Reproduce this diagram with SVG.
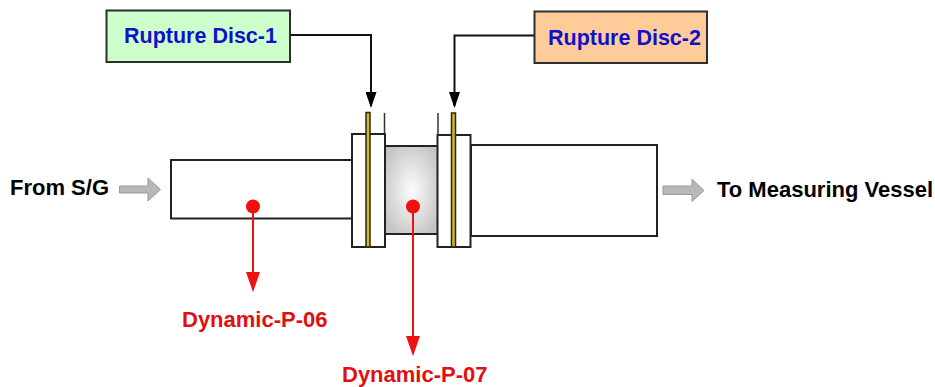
<svg xmlns="http://www.w3.org/2000/svg" width="935" height="387" viewBox="0 0 935 387">
<style>
.lbl{font-family:"Liberation Sans",Arial,sans-serif;font-weight:bold;font-size:22px}
.rd{font-size:21.5px;fill:#1010cc}
.part{fill:#fff;stroke:#222;stroke-width:2}
.disc{fill:#d8b820;stroke:#2a2410;stroke-width:1.500}
.box{stroke:#2e2e2e;stroke-width:2}
.wire{fill:none;stroke:#111;stroke-width:2;marker-end:url(#ak)}
.tap{fill:none;stroke:#f01010;stroke-width:2;marker-end:url(#ar)}
.flow{fill:#b8b8b8;stroke:#999;stroke-width:1}
</style>
<defs>
<radialGradient id="g" cx="0.5" cy="0.5" r="0.6">
<stop offset="0" stop-color="#fdfdfd"/>
<stop offset="1" stop-color="#c4c4c4"/>
</radialGradient>
<marker id="ak" markerUnits="userSpaceOnUse" markerWidth="16" markerHeight="11" refX="14" refY="5.500" orient="auto" viewBox="0 0 16 11"><path d="M0 0L16 5.500L0 11Z" fill="#000"/></marker>
<marker id="ar" markerUnits="userSpaceOnUse" markerWidth="20" markerHeight="14" refX="18" refY="7" orient="auto" viewBox="0 0 20 14"><path d="M0 0L20 7L0 14Z" fill="#f01010"/></marker>
</defs>
<rect width="935" height="387" fill="#fff"/>
<g id="pipe-left"><rect class="part" x="171" y="160" width="181" height="58.500"/></g>
<g id="pipe-right"><rect class="part" x="471" y="145" width="186" height="91"/></g>
<g id="chamber"><rect x="385" y="146" width="53" height="88" fill="url(#g)" stroke="#222" stroke-width="2"/></g>
<g id="flange-1">
<rect class="part" x="352" y="134" width="33" height="113"/>
<path d="M384.500 113V134" fill="none" stroke="#333" stroke-width="1.500"/>
<rect class="disc" x="366" y="112.500" width="4" height="134.500"/>
</g>
<g id="flange-2">
<rect class="part" x="437.500" y="135" width="33" height="112"/>
<path d="M438 113V135" fill="none" stroke="#333" stroke-width="1.500"/>
<rect class="disc" x="451.500" y="113" width="4" height="134"/>
</g>
<g id="connectors">
<path class="wire" d="M290 35H371V106"/>
<path class="wire" d="M534 35.500H454.500V106"/>
<path class="tap" d="M253 206V290"/>
<path class="tap" d="M413 206V354"/>
<path class="flow" d="M119.500 186H148V178L160.500 189.500L148 201V193H119.500Z"/>
<path class="flow" d="M663 186H692V179L704 190.500L692 201.500V194.500H663Z"/>
</g>
<g id="rupture-disc-1">
<rect class="box" x="106.500" y="10.500" width="183.500" height="51.500" fill="#ccffcc"/>
<text class="lbl rd" x="124" y="43.300">Rupture Disc-1</text>
</g>
<g id="rupture-disc-2">
<rect class="box" x="534.500" y="11.500" width="172.500" height="51.500" fill="#ffcc99"/>
<text class="lbl rd" x="548" y="45">Rupture Disc-2</text>
</g>
<g id="dynamic-p-06">
<circle cx="253" cy="206.500" r="7" fill="#f01010"/>
<text class="lbl" x="182" y="326.700" fill="#e01010">Dynamic-P-06</text>
</g>
<g id="dynamic-p-07">
<circle cx="413" cy="206.500" r="7" fill="#f01010"/>
<text class="lbl" x="342" y="381.700" fill="#e01010">Dynamic-P-07</text>
</g>
<g id="from-sg"><text class="lbl" x="10" y="195" fill="#000">From S/G</text></g>
<g id="to-vessel"><text class="lbl" x="717" y="197" fill="#000">To Measuring Vessel</text></g>
</svg>
